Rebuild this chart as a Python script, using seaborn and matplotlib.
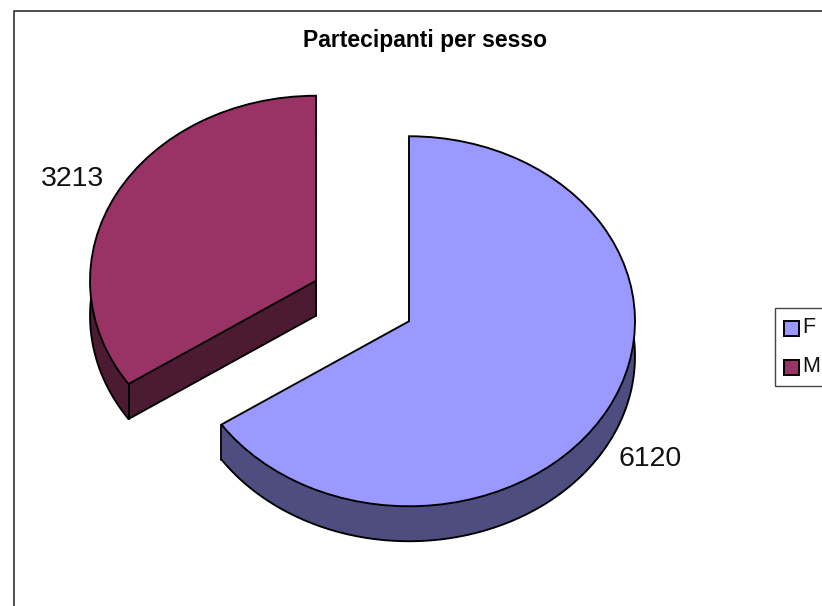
import numpy as np
import seaborn as sns
import matplotlib.pyplot as plt
from matplotlib.patches import Rectangle

# Chart values
categories = ['F', 'M']
values = [6120, 3213]
title = 'Partecipanti per sesso'

sns.set_theme(style='white', font='Liberation Sans')
top_colors = sns.color_palette(['#9999FF', '#993366'])
side_colors = sns.color_palette(['#4D4D80', '#4D1A33'])

W, H = 822, 606
fig = plt.figure(figsize=(W / 100, H / 100), dpi=100, facecolor='white')
ax = fig.add_axes([0, 0, 1, 1])

# pie is a unit circle, the axis limits squash it into the tilted ellipse
RX, RY = 226, 185
CX, CY = 362.5, 301
DEPTH = 35 / RY
EDGE = 1.35
pie_args = dict(explode=[0.233, 0.233], startangle=90, counterclock=False)

# side walls: same pie stacked downwards
for d in np.linspace(DEPTH, 0, 36):
    ax.pie(values, colors=side_colors, center=(0, -d),
           wedgeprops=dict(linewidth=0, zorder=1), **pie_args)

# top faces
wedges, _ = ax.pie(values, colors=top_colors, center=(0, 0),
                   wedgeprops=dict(edgecolor='black', linewidth=EDGE, zorder=3), **pie_args)

# outline of the side walls, the top faces hide whatever is behind them
cut = np.deg2rad(wedges[0].theta1)
for w in wedges:
    cx, cy = w.center
    t = np.deg2rad(np.linspace(w.theta1, w.theta2, 300))
    ax.plot(cx + np.cos(t), cy + np.sin(t) - DEPTH, color='black', lw=EDGE, zorder=2)
    x, y = cx + np.cos(cut), cy + np.sin(cut)
    ax.plot([x, x], [y, y - DEPTH], color='black', lw=EDGE, zorder=2)
    ax.plot([cx, cx], [cy, cy - DEPTH], color='black', lw=EDGE, zorder=2)

# only the M slice shows its cut face
cx, cy = wedges[1].center
ax.plot([cx, cx + np.cos(cut)], [cy - DEPTH, cy + np.sin(cut) - DEPTH], color='black', lw=EDGE, zorder=2)

ax.set_aspect('auto')
ax.set_xlim(-CX / RX, (W - CX) / RX)
ax.set_ylim((CY - H) / RY, CY / RY)
ax.axis('off')

# value labels
fig.text(72.5 / W, 1 - 178.5 / H, str(values[1]), fontsize=20.5, color='#111111', ha='center', va='center')
fig.text(650 / W, 1 - 459.5 / H, str(values[0]), fontsize=20.5, color='#111111', ha='center', va='center')

fig.text(425 / W, 1 - 41 / H, title, fontsize=16.5, fontweight='bold', color='black', ha='center', va='center')

# chart border, runs off the right and bottom of the image
fig.add_artist(Rectangle((13.5 / W, -0.1), 1, 1.1 - 10.5 / H, transform=fig.transFigure,
                         fill=False, edgecolor='#222222', linewidth=1.1))

leg = fig.legend(wedges, categories, loc='upper left', bbox_to_anchor=(775 / W, 1 - 308 / H),
                 bbox_transform=fig.transFigure, fontsize=15.5, frameon=True, fancybox=False,
                 framealpha=1, edgecolor='#444444', borderaxespad=0, borderpad=0.42,
                 handlelength=0.7, handleheight=0.7, handletextpad=0.15, labelspacing=0.85,
                 labelcolor='#111111')
leg.get_frame().set_linewidth(1.0)
# swatches sit a little lower than the text
for handle in leg.legend_handles:
    handle.set_y(handle.get_y() - 2)
    handle.set_linewidth(1.4)

plt.savefig('out.png', dpi=100)
